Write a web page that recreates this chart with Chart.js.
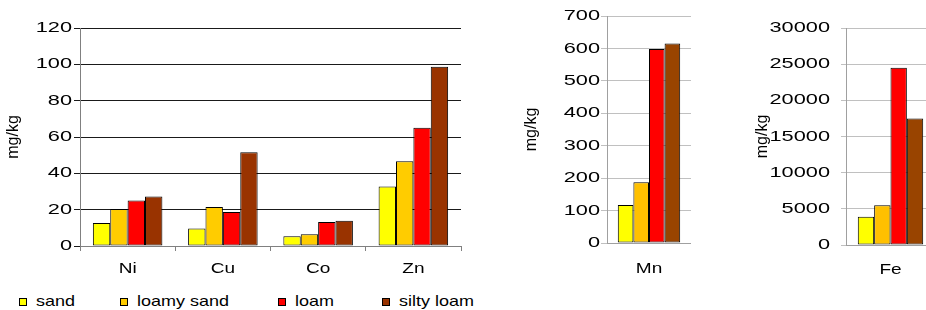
<!DOCTYPE html>
<html>
<head>
<meta charset="utf-8">
<script src="https://cdn.jsdelivr.net/npm/chart.js@4.4.1/dist/chart.umd.min.js"></script>
<style>
  html, body { margin: 0; padding: 0; background: #fff; }
  body { width: 926px; height: 310px; position: relative; overflow: hidden; font-family: 'Liberation Sans', Arial, sans-serif; }
  canvas { position: absolute; top: 0; }
  .lg-box { position: absolute; top: 298px; width: 6px; height: 6px; border: 1px solid #000; }
  .lg-text { position: absolute; top: 292px; font-size: 15px; line-height: 17px; color: #000; transform: scaleX(1.2); transform-origin: 0 0; white-space: nowrap; }
</style>
</head>
<body>
<canvas id="traceChart" width="470" height="290" style="left:0"></canvas>
<canvas id="mnChart" width="169" height="290" style="left:522px"></canvas>
<canvas id="feChart" width="184" height="290" style="left:751px"></canvas>
<div id="legend"></div>
<script>
// data (mg/kg)
const traceMetals = ['Ni', 'Cu', 'Co', 'Zn'];
const soilTypes = ['sand', 'loamy sand', 'loam', 'silty loam'];
const sandTrace = [12.7, 9.7, 5.3, 32.7];
const loamySandTrace = [20.4, 21.5, 6.4, 46.6];
const loamTrace = [25.0, 18.7, 13.2, 65.1];
const siltyLoamTrace = [27.2, 51.6, 13.9, 98.7];
// one value per soil type, same order as soilTypes
const mnValues = [117, 187, 598, 615];
const feValues = [3900, 5500, 24500, 17500];

const traceColors = ['#ffff00', '#ffcc00', '#ff0000', '#993300'];
const majorColors = ['#ffff00', '#ffc000', '#ff0000', '#994400'];

Chart.defaults.font.family = "'Liberation Sans', Arial, sans-serif";
Chart.defaults.font.size = 15;
Chart.defaults.color = '#000';

// the original text is drawn wider than normal, stretch horizontal labels
const wideText = {
    id: 'wideText',
    beforeInit(chart) {
        const ctx = chart.ctx;
        const fill = ctx.fillText.bind(ctx);
        ctx.fillText = (text, x, y) => {
            if (ctx.getTransform().b !== 0) return fill(text, x, y); // rotated title
            const sx = ctx.textAlign === 'right' ? 1.45 : 1.27;
            ctx.save();
            ctx.translate(x, y);
            ctx.scale(sx, 1);
            fill(text, 0, 0);
            ctx.restore();
        };
    }
};

function barChart(id, labels, datasets, cfg) {
    return new Chart(document.getElementById(id), {
        type: 'bar',
        data: { labels: labels, datasets: datasets },
        options: {
            responsive: false,
            animation: false,
            layout: { padding: { top: cfg.top, right: cfg.right, left: 0, bottom: 0 } },
            datasets: {
                bar: { categoryPercentage: cfg.catPct, barPercentage: 1, borderWidth: 1, borderColor: '#000', borderSkipped: false }
            },
            plugins: { legend: { display: false }, tooltip: { enabled: false } },
            scales: {
                x: {
                    afterFit: s => { s.height = cfg.xHeight; },
                    grid: cfg.xTicks
                        ? { drawOnChartArea: false, drawTicks: true, tickLength: 5, color: '#808080' }
                        : { display: false, drawTicks: false, tickLength: 0 },
                    border: { color: cfg.axisColor },
                    ticks: { padding: cfg.xPad }
                },
                y: {
                    min: 0, max: cfg.max,
                    afterFit: s => { s.width = cfg.yWidth; },
                    grid: { color: cfg.gridColor, tickLength: cfg.tickLen },
                    border: { color: cfg.axisColor },
                    ticks: { stepSize: cfg.step, padding: cfg.yPad, callback: v => String(v) },
                    title: { display: true, text: 'mg/kg', font: { size: 16 }, padding: { top: cfg.titlePad, bottom: 0 } }
                }
            }
        },
        plugins: [wideText]
    });
}

const traceSets = [sandTrace, loamySandTrace, loamTrace, siltyLoamTrace].map((vals, i) => ({
    label: soilTypes[i], data: vals, backgroundColor: traceColors[i]
}));
barChart('traceChart', traceMetals, traceSets, {
    top: 28, right: 9, yWidth: 80, xHeight: 44, max: 120, step: 20, catPct: 0.73,
    gridColor: '#1a1a1a', axisColor: '#808080', tickLen: 6, yPad: 2, xPad: 9, xTicks: true, titlePad: 4
});

const mnSets = soilTypes.map((s, i) => ({ label: s, data: [mnValues[i]], backgroundColor: majorColors[i] }));
barChart('mnChart', ['Mn'], mnSets, {
    top: 16, right: 0, yWidth: 85, xHeight: 47, max: 700, step: 100, catPct: 0.743,
    gridColor: '#c0c0c0', axisColor: '#a0a0a0', tickLen: 6, yPad: 1, xPad: 17, xTicks: false, titlePad: 0
});

const feSets = soilTypes.map((s, i) => ({ label: s, data: [feValues[i]], backgroundColor: majorColors[i] }));
barChart('feChart', ['Fe'], feSets, {
    top: 28, right: 0, yWidth: 95, xHeight: 45, max: 30000, step: 5000, catPct: 0.735,
    gridColor: '#c0c0c0', axisColor: '#a0a0a0', tickLen: 5, yPad: 11, xPad: 16, xTicks: false, titlePad: 2
});

// legend under the left panel
const legendBoxX = [19, 120, 278, 382];
const legend = document.getElementById('legend');
soilTypes.forEach((name, i) => {
    const box = document.createElement('div');
    box.className = 'lg-box';
    box.style.left = legendBoxX[i] + 'px';
    box.style.background = traceColors[i];
    const txt = document.createElement('div');
    txt.className = 'lg-text';
    txt.style.left = (legendBoxX[i] + 17) + 'px';
    txt.textContent = name;
    legend.appendChild(box);
    legend.appendChild(txt);
});
</script>
</body>
</html>
